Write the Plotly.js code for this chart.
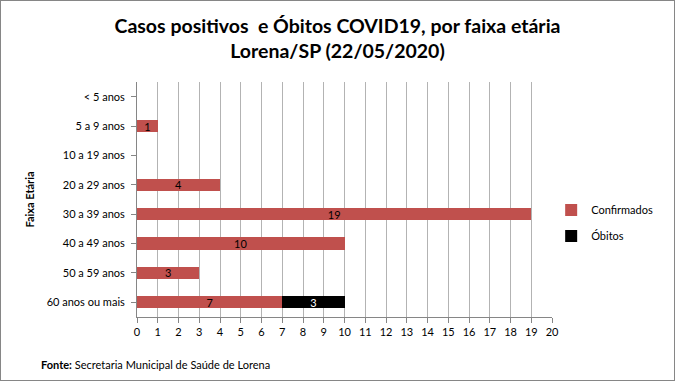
<!DOCTYPE html>
<html><head><meta charset="utf-8">
<script src="https://cdn.plot.ly/plotly-3.0.1.min.js"></script>
<style>html,body{margin:0;padding:0;background:#fff}#c{width:675px;height:381px;box-sizing:border-box;border:1px solid #868686}</style>
</head><body><div id="c"></div>
<script>
const categorias = ["< 5 anos","5 a 9 anos","10 a 19 anos","20 a 29 anos","30 a 39 anos","40 a 49 anos","50 a 59 anos","60 anos ou mais"];
const confirmados = [null,1,null,4,19,10,3,7];
const obitos = [null,null,null,null,null,null,null,3];
const xTicks = [0,1,2,3,4,5,6,7,8,9,10,11,12,13,14,15,16,17,18,19,20];
const F = "Lato, 'Open Sans', sans-serif";
const data = [
 {type:'bar', orientation:'h', name:'Confirmados', legendgroup:'a', y:categorias, x:confirmados,
  marker:{color:'#C0504D'}, text:confirmados.map(v=>v==null?'':String(v)), textposition:'inside', textangle:0, constraintext:'none',
  insidetextanchor:'middle', textfont:{color:'#000', size:11, family:F}, hoverinfo:'x+y'},
 {type:'bar', orientation:'h', name:'Óbitos', legendgroup:'b', y:categorias, x:obitos,
  marker:{color:'#000000'}, text:obitos.map(v=>v==null?'':String(v)), textposition:'inside', textangle:0, constraintext:'none',
  insidetextanchor:'middle', textfont:{color:'#fff', size:11, family:F}, hoverinfo:'x+y'}
];
const layout = {
 width:673, height:379, paper_bgcolor:'#fff', plot_bgcolor:'#fff',
 margin:{l:136, r:122, t:81, b:63, autoexpand:false},
 barmode:'stack', bargap:0.58,
 font:{family:F, size:11, color:'#000'},
 title:{text:'<b>Casos positivos  e Óbitos COVID19, por faixa etária</b><br><b>Lorena/SP (22/05/2020)</b>', x:0.5, xanchor:'center', y:0.916, yanchor:'middle', font:{size:19.5, family:F, color:'#000'}},
 xaxis:{range:[0,20], tickvals:xTicks, ticktext:xTicks.map(String), showgrid:true, gridcolor:'#B3B3B3', gridwidth:1,
   zeroline:false, showline:true, linecolor:'#868686', ticks:'outside', ticklen:5, tickcolor:'#868686', tickfont:{size:11}},
 yaxis:{autorange:'reversed', showline:true, linecolor:'#868686', ticks:'outside', ticklen:5, tickcolor:'#868686',
   tickfont:{size:11}, ticklabelstandoff:4,
   title:{text:'<b>Faixa Etária</b>', font:{size:11}, standoff:9}},
 showlegend:true,
 legend:{x:0.998, y:0.40, xanchor:'left', yanchor:'middle', font:{size:11}, traceorder:'grouped', itemwidth:30, tracegroupgap:7},
 annotations:[{xref:'paper', yref:'paper', x:-0.236, y:-0.165, xanchor:'left', yanchor:'top', showarrow:false,
   text:'<b>Fonte:</b> Secretaria Municipal de Saúde de Lorena', font:{size:11}}]
};
Plotly.newPlot('c', data, layout, {displayModeBar:false, staticPlot:true});
</script></body></html>
